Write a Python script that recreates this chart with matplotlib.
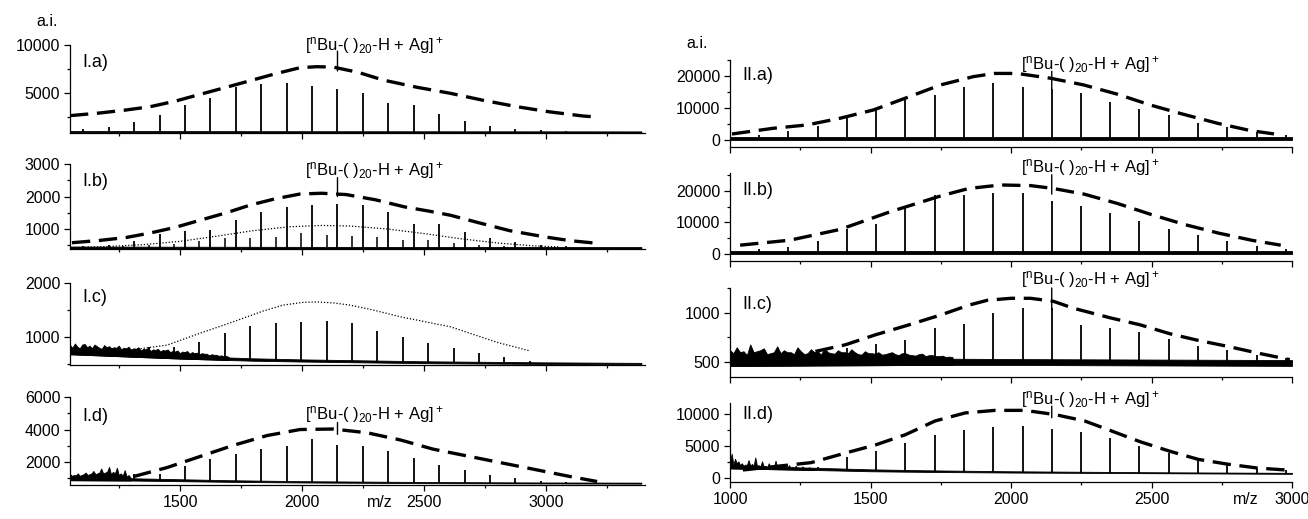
import numpy as np
import matplotlib.pyplot as plt
from matplotlib.ticker import MultipleLocator

plt.rcParams['font.family'] = ['Liberation Sans', 'DejaVu Sans']
plt.rcParams['mathtext.fontset'] = 'custom'
plt.rcParams['mathtext.rm'] = 'Liberation Sans'

LABEL = r'[$\mathregular{^n}$Bu-( )$\mathregular{_{20}}$-H + Ag]$\mathregular{^+}$'

# ---------------- data ----------------
MZ_MAIN = [1103, 1207, 1312, 1416, 1520, 1624, 1728, 1832, 1937, 2041, 2145,
           2249, 2353, 2457, 2561, 2666, 2770, 2874, 2978, 3082]
MZ_SIDE = [1266, 1371, 1475, 1579, 1683, 1787, 1892, 1996, 2100, 2204, 2308,
           2412, 2516, 2621, 2725, 2829, 2933, 3037]
MZ_R = [1103, 1207, 1312, 1416, 1520, 1624, 1728, 1832, 1937, 2041, 2145,
        2249, 2353, 2457, 2561, 2666, 2770, 2874, 2978]

# I.a
IA_H = [1250, 1490, 2000, 2700, 3700, 4500, 5650, 5900, 6000, 5750, 5400,
        5050, 4000, 3750, 2800, 2100, 1550, 1250, 1100, 1000]
IA_BASE_MZ = [1049, 2000, 3390]
IA_BASE_LO = [900, 890, 880]
IA_BASE_HI = [1040, 1020, 1000]
IA_ENV_MZ = [1049, 1168, 1270, 1377, 1480, 1582, 1690, 1787, 1890, 1992, 2060,
             2127, 2230, 2332, 2470, 2607, 2740, 2881, 3010, 3152, 3209]
IA_ENV = [2640, 2910, 3200, 3570, 4150, 4860, 5600, 6280, 7000, 7640, 7740,
          7700, 7150, 6350, 5600, 4970, 4250, 3570, 3050, 2600, 2500]

# I.b
IB_H = [470, 520, 627, 857, 938, 981, 1270, 1519, 1683, 1736, 1767, 1736,
        1508, 1167, 1146, 900, 720, 600, 520, 470]
IB_SIDE_H = [480, 500, 546, 627, 732, 732, 764, 888, 810, 779, 764, 671, 650,
             580, 520, 480, 460, 450]
IB_BASE_MZ = [1049, 2000, 3390]
IB_BASE_LO = [400, 400, 400]
IB_BASE_HI = [460, 450, 445]
IB_ENV_MZ = [1057, 1172, 1280, 1377, 1480, 1582, 1690, 1787, 1890, 1992, 2080,
             2180, 2300, 2420, 2520, 2607, 2720, 2850, 3000, 3100, 3209]
IB_ENV = [578, 650, 740, 876, 1050, 1270, 1500, 1736, 1930, 2077, 2100,
          2060, 1900, 1680, 1550, 1425, 1200, 950, 750, 640, 560]
IB_DOT_MZ = [1057, 1200, 1350, 1500, 1650, 1800, 1950, 2080, 2200, 2350, 2500,
             2650, 2800, 2950, 3050]
IB_DOT = [430, 460, 520, 620, 780, 950, 1070, 1110, 1090, 1000, 860, 700,
          570, 480, 450]

# I.c
IC_H = [780, 815, 820, 913, 1080, 1200, 1250, 1280, 1295, 1260, 1115, 995,
        880, 800, 700, 620, 560, 520]
IC_BASE_MZ = [1049, 1300, 1500, 1800, 2000, 2500, 3000, 3390]
IC_BASE_LO = [680, 635, 600, 560, 545, 515, 500, 495]
IC_BASE_HI = [740, 690, 650, 605, 585, 550, 530, 520]
IC_NOISE_START, IC_NOISE_STEP = 1049, 10
IC_NOISE = [850, 800, 880, 820, 790, 860, 870, 810, 840, 790,
            860, 830, 800, 780, 850, 810, 830, 790, 810, 800,
            840, 770, 800, 790, 820, 760, 790, 780, 810, 750,
            780, 770, 800, 740, 770, 760, 780, 730, 760, 750,
            770, 720, 740, 730, 750, 700, 730, 720, 740, 690,
            720, 700, 710, 680, 700, 690, 690, 660, 680, 670,
            670, 650, 660, 640, 650, 630]
IC_DOT_MZ = [1300, 1447, 1582, 1717, 1840, 1922, 2000, 2061, 2130, 2197, 2300,
             2402, 2507, 2607, 2700, 2800, 2935]
IC_DOT = [760, 850, 1070, 1280, 1480, 1590, 1640, 1650, 1630, 1590, 1490,
          1375, 1280, 1190, 1050, 900, 740]

# I.d
ID_H = [1200, 1250, 1280, 1280, 1730, 2160, 2500, 2800, 2970, 3420, 3060, 2970,
        2680, 2230, 1820, 1500, 1200, 1000, 850, 760]
ID_BASE_MZ = [1049, 1300, 1500, 1700, 2000, 2500, 3000, 3390]
ID_BASE_LO = [880, 860, 820, 780, 740, 700, 680, 670]
ID_BASE_HI = [1050, 1000, 940, 880, 820, 770, 740, 730]
ID_NOISE_START, ID_NOISE_STEP = 1049, 8
ID_NOISE = [1250, 1150, 1200, 1180, 1300, 1150, 1200, 1250, 1350, 1200,
            1250, 1300, 1450, 1250, 1300, 1350, 1600, 1300, 1350, 1400,
            1700, 1250, 1400, 1300, 1650, 1200, 1300, 1150, 1500, 1100,
            1200, 1050]
ID_ENV_MZ = [1308, 1447, 1582, 1717, 1857, 1992, 2127, 2266, 2402, 2537, 2700,
             2900, 3100, 3209]
ID_ENV = [1100, 1660, 2340, 3020, 3630, 4000, 4030, 3800, 3360, 2790, 2300,
          1700, 1100, 800]

# II.a
IIA_H = [1560, 2810, 4375, 7090, 9375, 12500, 14060, 16660, 17900, 16660,
         15900, 14600, 11800, 9600, 7800, 5400, 4150, 2600, 1560]
IIA_BASE_MZ = [1000, 3000]
IIA_BASE_LO = [0, 0]
IIA_BASE_HI = [800, 800]
IIA_ENV_MZ = [1007, 1153, 1274, 1392, 1510, 1631, 1749, 1866, 1940, 2022, 2141,
              2259, 2379, 2497, 2615, 2736, 2854, 2936]
IIA_ENV = [1875, 3650, 4700, 6800, 9375, 13300, 17200, 19800, 20800, 20800,
           19300, 17200, 14300, 10900, 8000, 5200, 2900, 1900]

# II.b
IIB_H = [1490, 2310, 4220, 7830, 9410, 15300, 18700, 18700, 19400, 19200,
         16900, 15300, 13000, 10500, 8000, 6000, 4000, 2500, 1500]
IIB_BASE_MZ = [1000, 3000]
IIB_BASE_LO = [0, 0]
IIB_BASE_HI = [800, 800]
IIB_ENV_MZ = [1036, 1214, 1392, 1570, 1749, 1850, 1963, 2070, 2150, 2260, 2380,
              2500, 2620, 2740, 2860, 2960]
IIB_ENV = [2800, 4400, 7800, 13400, 18400, 20800, 21900, 21700, 20800, 19000,
           16000, 12500, 9300, 6600, 4300, 2800]

# II.c
IIC_H = [600, 642, 686, 726, 845, 889, 1000, 1050, 1050, 879, 845, 811, 733,
         666, 625, 574, 540]
IIC_BASE_MZ = [1000, 1700, 2000, 2500, 3000]
IIC_BASE_LO = [460, 470, 470, 465, 460]
IIC_BASE_HI = [540, 535, 530, 525, 520]
IIC_NOISE_START, IIC_NOISE_STEP = 1000, 12
IIC_NOISE = [620, 590, 650, 600, 610, 570, 680, 600, 610, 620,
             640, 580, 590, 600, 660, 590, 620, 600, 600, 580,
             650, 610, 580, 590, 630, 600, 610, 575, 640, 600,
             590, 585, 620, 600, 600, 590, 630, 600, 580, 575,
             610, 590, 590, 585, 600, 575, 580, 590, 600, 580,
             570, 590, 590, 575, 570, 565, 580, 585, 560, 570,
             570, 560, 560, 565, 550, 555, 550]
IIC_ENV_MZ = [1304, 1411, 1517, 1624, 1750, 1850, 1916, 2000, 2069, 2150, 2223,
              2354, 2460, 2567, 2667, 2772, 2878, 2992]
IIC_ENV = [608, 676, 777, 868, 980, 1080, 1130, 1150, 1150, 1120, 1048, 950,
           879, 787, 720, 659, 591, 524]

# II.d
IID_H = [1750, 3300, 4150, 5500, 6750, 7550, 7900, 8050, 7650, 7150, 6250,
         5050, 3900, 3000, 2250, 1550, 1250]
IID_BASE_MZ = [1000, 1300, 1500, 1700, 2000, 2500, 3000]
IID_BASE_LO = [1500, 1250, 1050, 950, 850, 750, 650]
IID_BASE_HI = [1900, 1600, 1350, 1200, 1050, 900, 800]
IID_NOISE_START, IID_NOISE_STEP = 1000, 6
IID_NOISE = [2400, 3800, 2100, 3000, 2300, 2600, 2000, 2300, 1900, 2100,
             2000, 2800, 1900, 2200, 1900, 3200, 1900, 2000, 1800, 2600,
             1800, 1900, 1700, 2300, 1700, 1900, 1650, 2700, 1650, 1800,
             1600, 2100, 1650, 1700, 1600, 2000, 1550, 1700, 1550, 1900,
             1500, 1600, 1500, 1800, 1500, 1600, 1450, 1700, 1450, 1500,
             1450]
IID_ENV_MZ = [1046, 1289, 1411, 1517, 1624, 1730, 1837, 1943, 2049, 2156, 2262,
              2354, 2460, 2567, 2667, 2772, 2878, 2978]
IID_ENV = [1250, 2400, 3900, 5150, 6750, 8900, 10150, 10550, 10550, 9900, 8900,
           7400, 5650, 4150, 2900, 2150, 1550, 1250]

# ---------------- figure ----------------
W, H = 1308, 519
fig = plt.figure(figsize=(W / 100, H / 100), dpi=100)


def make_ax(left, right, top, bottom):
    return fig.add_axes([left / W, 1 - bottom / H, (right - left) / W, (bottom - top) / H])


def style(ax, xlim, ylim, xmaj, ymaj, ymin, show_x):
    ax.set_xlim(*xlim)
    ax.set_ylim(*ylim)
    for s in ('top', 'right'):
        ax.spines[s].set_visible(False)
    for s in ('left', 'bottom'):
        ax.spines[s].set_linewidth(0.9)
    ax.xaxis.set_major_locator(MultipleLocator(xmaj))
    ax.xaxis.set_minor_locator(MultipleLocator(xmaj / 2))
    ax.yaxis.set_major_locator(MultipleLocator(ymaj))
    ax.yaxis.set_minor_locator(MultipleLocator(ymin))
    ax.tick_params(which='major', direction='out', length=4.5, width=0.9,
                   labelsize=11.5, pad=2.5)
    ax.tick_params(which='minor', direction='out', length=2.5, width=0.9)
    ax.tick_params(axis='x', labelbottom=show_x)


def draw(ax, mz, h, base_mz, lo, hi):
    ax.fill_between(base_mz, lo, hi, color='black', lw=0.6)
    base = np.interp(mz, base_mz, lo)
    ax.vlines(mz, base, h, color='black', lw=1.3)


def noise(ax, start, step, top, base_mz, lo):
    # noisy low-mass region: dark band from the baseline up to a jagged top
    mz = start + step * np.arange(len(top))
    ax.fill_between(mz, np.interp(mz, base_mz, lo), top, color='black', lw=0.6)


def envelope(ax, mz, y):
    ax.plot(mz, y, color='black', lw=2.4, dashes=(5.5, 2.6))


def dotted(ax, mz, y):
    ax.plot(mz, y, color='black', lw=0.9, ls=(0, (1, 1.5)))


def panel_label(ax, text, yf):
    ax.text(0.022, yf, text, transform=ax.transAxes, fontsize=13, va='center')


def ion_label(ax, xl, yf, mark, lo, hi_f):
    ax.text(xl, yf, LABEL, transform=ax.get_xaxis_transform(), fontsize=12,
            va='center', ha='left', clip_on=False)
    ax.annotate('', xy=(mark, lo), xytext=(mark, hi_f),
                textcoords=('data', 'axes fraction'),
                arrowprops=dict(arrowstyle='-', lw=1.0, shrinkA=0, shrinkB=0))


LX = (70, 645)
RX = (730, 1292)
LXLIM = (1049, 3405)
RXLIM = (1000, 3000)

# left column
ax = make_ax(*LX, 45, 133)
style(ax, LXLIM, (833, 10000), 500, 5000, 2500, False)
draw(ax, MZ_MAIN, IA_H, IA_BASE_MZ, IA_BASE_LO, IA_BASE_HI)
envelope(ax, IA_ENV_MZ, IA_ENV)
panel_label(ax, 'I.a)', 0.8)
ion_label(ax, 2010, 1.0, 2145, 7300, 0.93)

ax = make_ax(*LX, 164, 249)
style(ax, LXLIM, (385, 3000), 500, 1000, 500, False)
draw(ax, MZ_MAIN, IB_H, IB_BASE_MZ, IB_BASE_LO, IB_BASE_HI)
ax.vlines(MZ_SIDE, 420, IB_SIDE_H, color='black', lw=1.1)
envelope(ax, IB_ENV_MZ, IB_ENV)
dotted(ax, IB_DOT_MZ, IB_DOT)
panel_label(ax, 'I.b)', 0.8)
ion_label(ax, 2010, 0.92, 2145, 2000, 0.84)

ax = make_ax(*LX, 283, 365)
style(ax, LXLIM, (481, 2000), 500, 1000, 500, False)
draw(ax, MZ_SIDE, IC_H, IC_BASE_MZ, IC_BASE_LO, IC_BASE_HI)
noise(ax, IC_NOISE_START, IC_NOISE_STEP, IC_NOISE, IC_BASE_MZ, IC_BASE_LO)
dotted(ax, IC_DOT_MZ, IC_DOT)
panel_label(ax, 'I.c)', 0.82)

ax = make_ax(*LX, 397, 485)
style(ax, LXLIM, (585, 6000), 500, 2000, 1000, True)
draw(ax, MZ_MAIN, ID_H, ID_BASE_MZ, ID_BASE_LO, ID_BASE_HI)
noise(ax, ID_NOISE_START, ID_NOISE_STEP, ID_NOISE, ID_BASE_MZ, ID_BASE_LO)
envelope(ax, ID_ENV_MZ, ID_ENV)
panel_label(ax, 'I.d)', 0.78)
ion_label(ax, 2010, 0.8, 2145, 3700, 0.71)
ax.annotate('m/z', xy=(2320, 0), xycoords=('data', 'axes fraction'),
            xytext=(0, -7), textcoords='offset points', ha='center', va='top',
            fontsize=11.5)

# right column
ax = make_ax(*RX, 60, 147)
style(ax, RXLIM, (-2190, 25000), 500, 10000, 5000, False)
draw(ax, MZ_R, IIA_H, IIA_BASE_MZ, IIA_BASE_LO, IIA_BASE_HI)
envelope(ax, IIA_ENV_MZ, IIA_ENV)
panel_label(ax, 'II.a)', 0.82)
ion_label(ax, 2035, 0.95, 2145, 15900, 0.87)

ax = make_ax(*RX, 173, 261)
style(ax, RXLIM, (-2220, 25700), 500, 10000, 5000, False)
draw(ax, MZ_R, IIB_H, IIB_BASE_MZ, IIB_BASE_LO, IIB_BASE_HI)
envelope(ax, IIB_ENV_MZ, IIB_ENV)
panel_label(ax, 'II.b)', 0.8)
ion_label(ax, 2035, 1.06, 2145, 19000, 0.98)

ax = make_ax(*RX, 288, 377)
style(ax, RXLIM, (347, 1255), 500, 500, 250, False)
draw(ax, MZ_R[2:], IIC_H, IIC_BASE_MZ, IIC_BASE_LO, IIC_BASE_HI)
noise(ax, IIC_NOISE_START, IIC_NOISE_STEP, IIC_NOISE, IIC_BASE_MZ, IIC_BASE_LO)
envelope(ax, IIC_ENV_MZ, IIC_ENV)
panel_label(ax, 'II.c)', 0.81)
ion_label(ax, 2035, 1.09, 2145, 1030, 1.0)

ax = make_ax(*RX, 403, 482)
style(ax, RXLIM, (-625, 11700), 500, 5000, 2500, True)
draw(ax, MZ_R[2:], IID_H, IID_BASE_MZ, IID_BASE_LO, IID_BASE_HI)
noise(ax, IID_NOISE_START, IID_NOISE_STEP, IID_NOISE, IID_BASE_MZ, IID_BASE_LO)
envelope(ax, IID_ENV_MZ, IID_ENV)
panel_label(ax, 'II.d)', 0.85)
ion_label(ax, 2035, 1.05, 2145, 9400, 0.96)
ax.annotate('m/z', xy=(2835, 0), xycoords=('data', 'axes fraction'),
            xytext=(0, -7), textcoords='offset points', ha='center', va='top',
            fontsize=11.5)

fig.text(47 / W, 1 - 22 / H, 'a.i.', fontsize=11.5, ha='center', va='center')
fig.text(697 / W, 1 - 43 / H, 'a.i.', fontsize=11.5, ha='center', va='center')

fig.savefig('out.png', dpi=100)
